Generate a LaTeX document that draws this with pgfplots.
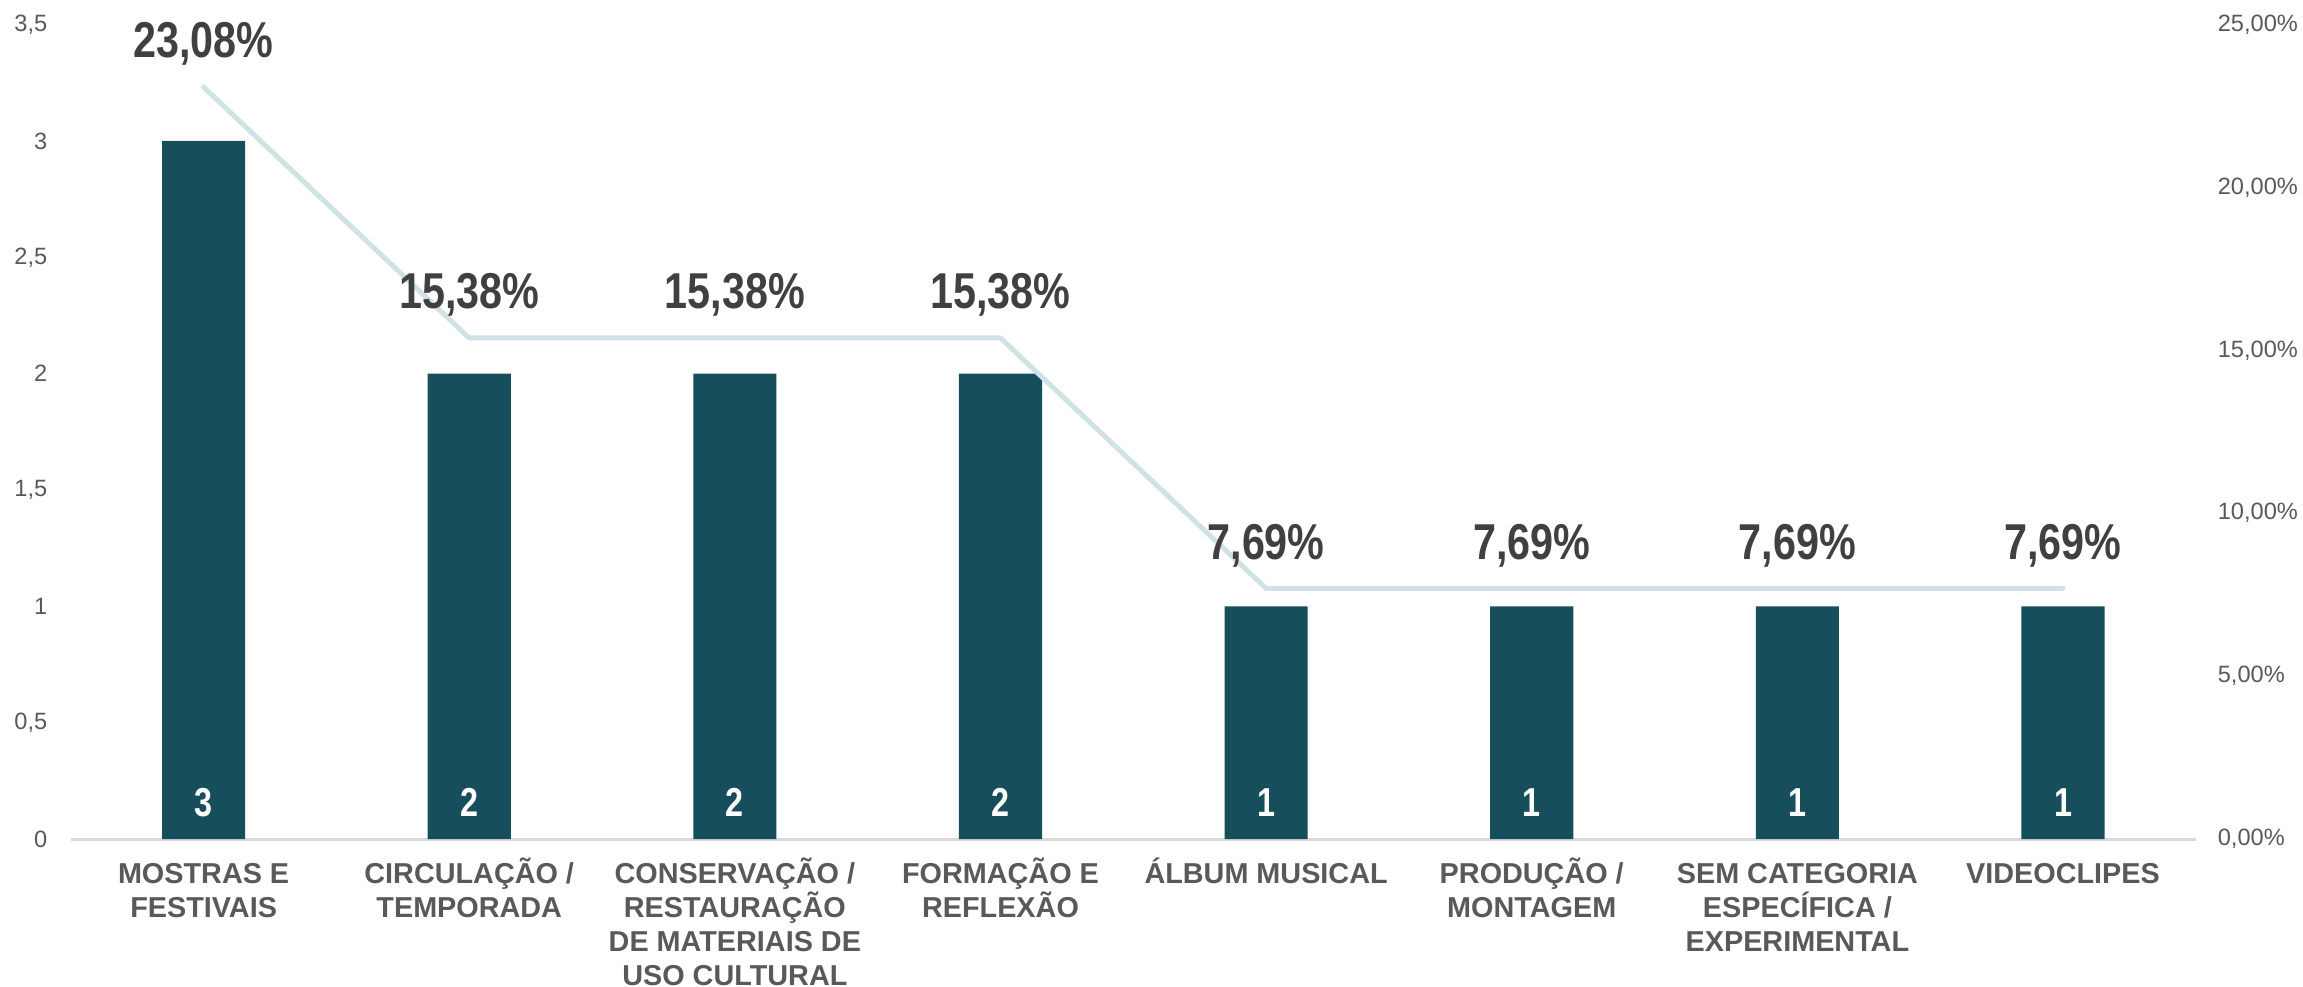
\documentclass[border=0pt]{standalone}
\usepackage{fontspec}
\setmainfont{Liberation Sans}
\newfontfamily\pctfont[FakeStretch=0.82]{Liberation Sans}
\newfontfamily\barfont[FakeStretch=0.8]{Liberation Sans}
\usepackage{pgfplots}
\pgfplotsset{compat=1.18}
\definecolor{barcol}{HTML}{164E5B}
\definecolor{linecol}{HTML}{D1E2E4}
\definecolor{pctcol}{HTML}{404040}
\definecolor{labcol}{HTML}{595959}
\definecolor{axcol}{HTML}{D9D9D9}
\newcommand{\Lh}{\rule{0pt}{7pt}}
\begin{document}
\begin{tikzpicture}
\useasboundingbox (-17.7pt,-36.75pt) rectangle (558.05pt,209.75pt);
\begin{axis}[
  scale only axis, width=531.25pt, height=203.6pt,
  xmin=-0.5, xmax=7.5, ymin=0, ymax=3.5,
  axis x line*=bottom, axis y line*=left,
  x axis line style={draw=axcol, line width=0.75pt, -},
  y axis line style={draw=none},
  major tick length=0pt,
  xtick={0,...,7},
  xticklabels={
    \Lh MOSTRAS E\\FESTIVAIS,
    \Lh CIRCULAÇÃO /\\TEMPORADA,
    \Lh CONSERVAÇÃO /\\RESTAURAÇÃO\\DE MATERIAIS DE\\USO CULTURAL,
    \Lh FORMAÇÃO E\\REFLEXÃO,
    \Lh ÁLBUM MUSICAL,
    \Lh PRODUÇÃO /\\MONTAGEM,
    \Lh SEM CATEGORIA\\ESPECÍFICA /\\EXPERIMENTAL,
    \Lh VIDEOCLIPES},
  xticklabel style={align=center, anchor=north, inner sep=0pt, yshift=-4pt,
    font=\fontsize{7.2}{8.5}\selectfont\bfseries, text=labcol},
  ytick={0,0.5,...,3.5},
  yticklabels={0,{0,5},1,{1,5},2,{2,5},3,{3,5}},
  yticklabel style={anchor=east, inner sep=0pt, xshift=-5.7pt,
    font=\fontsize{5.9}{7}\selectfont, text=labcol},
]
\addplot[ybar, bar width=20.8pt, fill=barcol, draw=none] coordinates {
  (0,3) (1,2) (2,2) (3,2) (4,1) (5,1) (6,1) (7,1)};
\addplot[draw=none, mark=none, nodes near coords, point meta=explicit symbolic,
  nodes near coords style={anchor=base, inner sep=0pt, yshift=5.5pt, text=white,
    font=\barfont\fontsize{10.1}{12}\selectfont\bfseries}] coordinates {
  (0,0) [3] (1,0) [2] (2,0) [2] (3,0) [2] (4,0) [1] (5,0) [1] (6,0) [1] (7,0) [1]};
\end{axis}
\begin{axis}[
  scale only axis, width=531.25pt, height=203.6pt,
  xmin=-0.5, xmax=7.5, ymin=0, ymax=25,
  axis x line=none, axis y line*=right,
  y axis line style={draw=none},
  major tick length=0pt,
  ytick={0,5,...,25},
  yticklabels={{0,00\%},{5,00\%},{10,00\%},{15,00\%},{20,00\%},{25,00\%}},
  yticklabel style={anchor=west, inner sep=0pt, xshift=5.3pt,
    font=\fontsize{5.9}{7}\selectfont, text=labcol},
]
\addplot[linecol, line width=1.25pt, line join=round, line cap=round, mark=none,
  nodes near coords, point meta=explicit symbolic,
  nodes near coords style={anchor=base, inner sep=0pt, yshift=7.3pt, text=pctcol,
    font=\pctfont\fontsize{12.6}{14}\selectfont\bfseries}] coordinates {
  (0,23.08) [{23,08\%}] (1,15.38) [{15,38\%}] (2,15.38) [{15,38\%}] (3,15.38) [{15,38\%}]
  (4,7.69) [{7,69\%}] (5,7.69) [{7,69\%}] (6,7.69) [{7,69\%}] (7,7.69) [{7,69\%}]};
\end{axis}
\end{tikzpicture}
\end{document}
